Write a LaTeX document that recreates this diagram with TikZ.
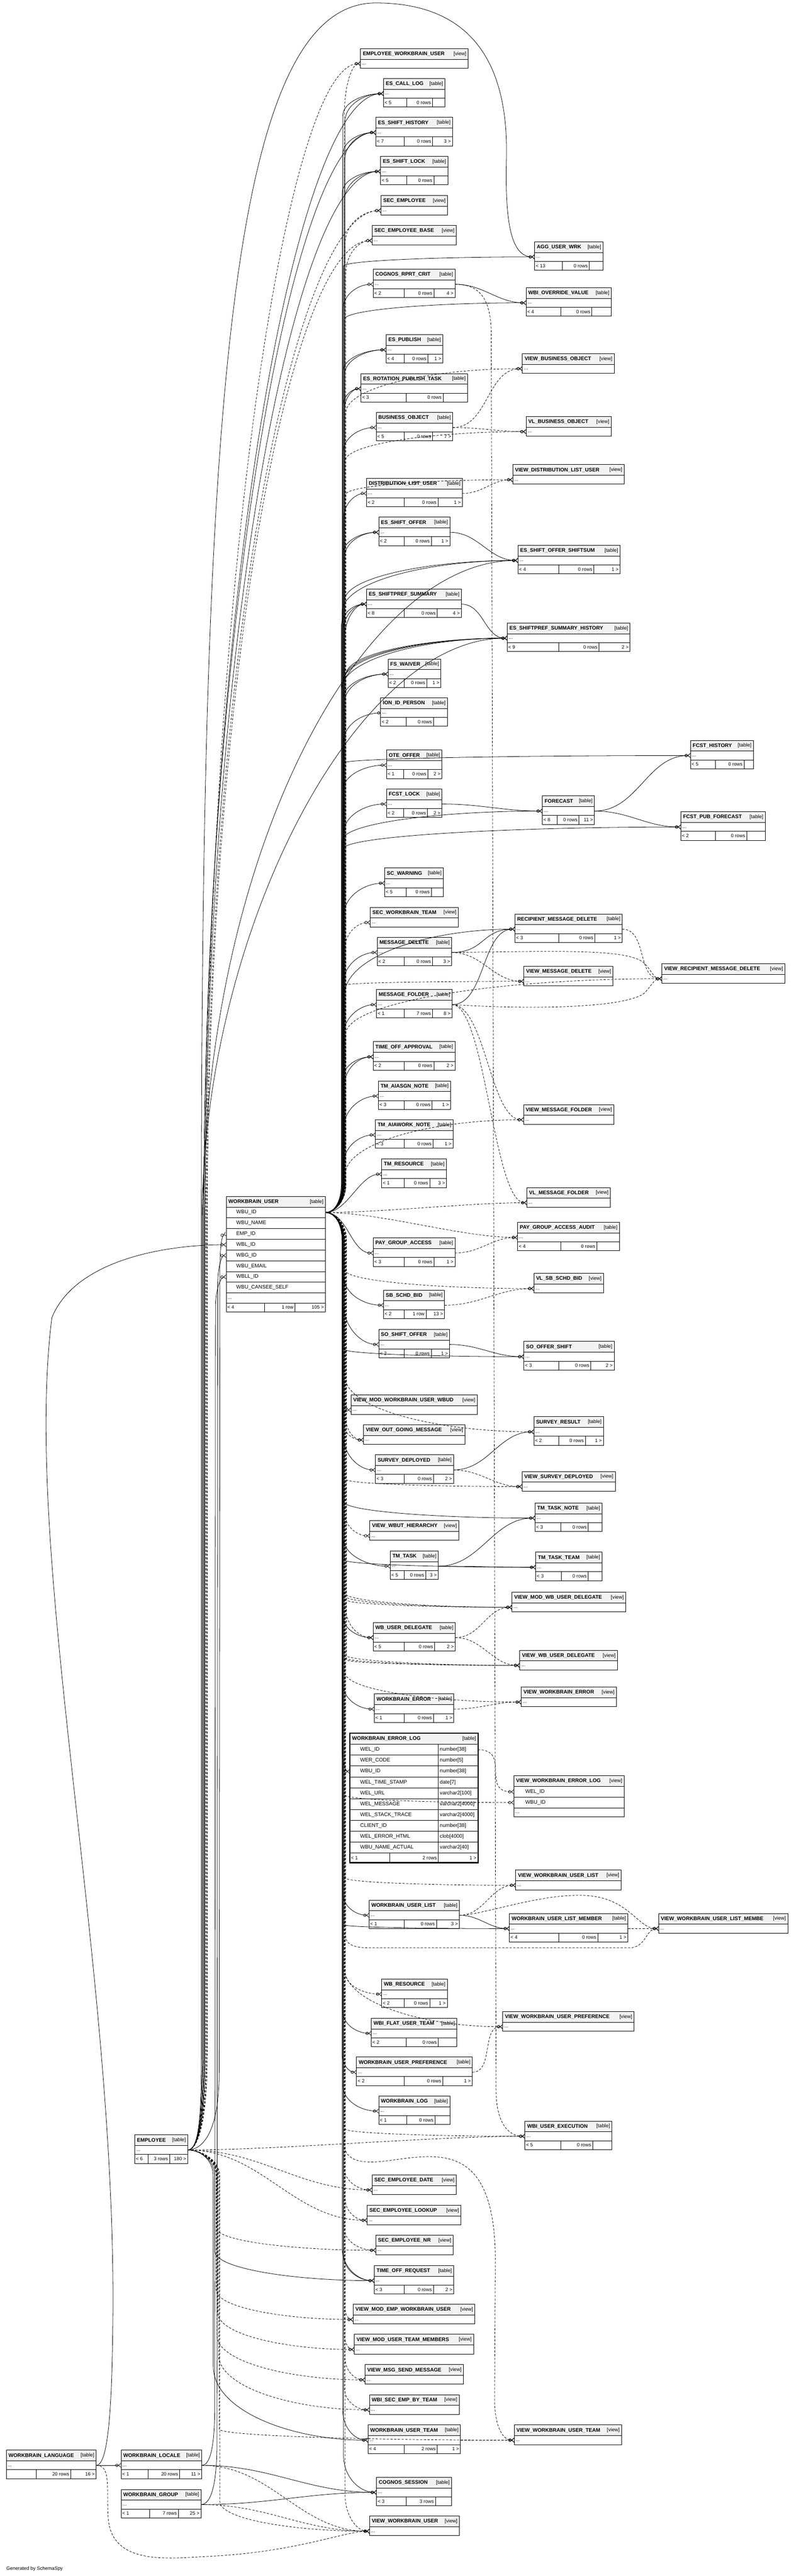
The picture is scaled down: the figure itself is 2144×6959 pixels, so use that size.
\documentclass[tikz,border=0pt]{standalone}
\usepackage{fontspec}
\setmainfont{Liberation Sans}
\usetikzlibrary{arrows.meta,calc}
\definecolor{hdrgray}{HTML}{F2F2F2}
\tikzset{
  hdr/.style={draw, line width=1.2pt, fill=hdrgray, minimum height=29pt, inner sep=0pt, outer sep=0pt, anchor=north west},
  rowbox/.style={draw, line width=1.2pt, minimum height=24pt, inner sep=0pt, outer sep=0pt, anchor=north west},
  colbox/.style={rowbox, minimum height=29pt},
  divline/.style={line width=1.2pt},
  ttl/.style={font=\bfseries\fontsize{14}{16}\selectfont, anchor=west, inner sep=0pt},
  knd/.style={font=\fontsize{13.5}{15}\selectfont, anchor=east, inner sep=0pt},
  txt/.style={font=\fontsize{13}{15}\selectfont, inner sep=0pt},
  col/.style={font=\fontsize{14}{16}\selectfont, anchor=west, inner sep=0pt},
  rel/.style={line width=1.1pt, -{Circle[open,length=8pt,width=8pt] Straight Barb[reversed,length=6pt,width=11pt]}},
  impl/.style={dash pattern=on 6pt off 4pt},
  one/.style={-{Circle[open,length=8pt,width=8pt] Bar[width=11pt]}},
}
\newcommand{\tbl}[6]{%
  \node[hdr, minimum width=#4pt] (#1-h) at (#2,-#3) {};
  \node[ttl] at ([xshift=6pt]#1-h.west) {#5};
  \node[knd] at ([xshift=-5pt]#1-h.east) {[#6]};
  \node[rowbox, minimum width=#4pt] (#1) at (#1-h.south west) {};
  \node[txt, anchor=west] at ([xshift=4pt,yshift=-2pt]#1.west) {...};}
\newcommand{\ftr}[7]{%
  \node[rowbox, minimum width=#2pt] (#1-f) at (#1.south west) {};
  \draw[divline] (#3,0 |- #1-f.north) -- (#3,0 |- #1-f.south);
  \draw[divline] (#4,0 |- #1-f.north) -- (#4,0 |- #1-f.south);
  \node[txt, anchor=west] at ([xshift=3pt]#1-f.west) {#5};
  \node[txt, anchor=east] at (#4-4,0 |- #1-f.west) {#6};
  \node[txt, anchor=east] at ([xshift=-4pt]#1-f.east) {#7};}
\newcommand{\wup}[4][]{\draw[rel,#1] let \p1=(#2.west) in (wbu.east) .. controls +(25,0) and (#3,-3245) .. (#3,-3200) -- (#3pt,\y1-#4pt) .. controls (#3pt,\y1-0.4*#4pt) and (0.5*\x1+0.5*#3pt,\y1) .. (\p1);}
\newcommand{\wdn}[4][]{\draw[rel,#1] let \p1=(#2.west) in (wbu.east) .. controls +(25,0) and (#3,-3305) .. (#3,-3350) -- (#3pt,\y1+#4pt) .. controls (#3pt,\y1+0.4*#4pt) and (0.5*\x1+0.5*#3pt,\y1) .. (\p1);}
\newcommand{\wnear}[3][]{\draw[rel,#1] (wbu.east) .. controls +(#3,0) and +(-#3,0) .. (#2.west);}
\newcommand{\eup}[4][]{\draw[rel,#1] let \p1=(#2.west) in (emp.east) .. controls +(30,0) and (#3,-5720) .. (#3,-5550) -- (#3,-3300) .. controls (#3pt,\y1-#4pt) and (0.5*\x1+0.5*#3pt,\y1) .. (\p1);}
\newcommand{\edn}[4][]{\draw[rel,#1] let \p1=(#2.west) in (emp.east) .. controls +(30,0) and (#3,-5830) .. (#3,-5880) -- (#3pt,\y1+#4pt) .. controls (#3pt,\y1+0.4*#4pt) and (0.5*\x1+0.5*#3pt,\y1) .. (\p1);}
\newcommand{\enear}[3][]{\draw[rel,#1] (emp.east) .. controls +(#3,0) and +(-#3,0) .. (#2.west);}
\newcommand{\lnk}[3][]{\draw[rel,#1] (#2.east) to[out=0,in=180] (#3.west);}
\newcommand{\lnkv}[3][]{\draw[rel,#1] (#2.east) .. controls +(90,0) and +(-90,0) .. (#3.west);}
\begin{document}
\catcode`\_=12
\begin{tikzpicture}[x=1pt,y=1pt]
\useasboundingbox (0,0) rectangle (2144,-6959);
\fill[white] (0,0) rectangle (2144,-6959);

% tables, top to bottom
\tbl{ewu}{974}{131}{291}{EMPLOYEE_WORKBRAIN_USER}{view}
\tbl{escall}{1036}{212}{166}{ES_CALL_LOG}{table} \ftr{escall}{166}{1099}{1168}{< 5}{0 rows}{}
\tbl{esshist}{1015}{317}{207}{ES_SHIFT_HISTORY}{table} \ftr{esshist}{207}{1092}{1169}{< 7}{0 rows}{3 >}
\tbl{esslock}{1028}{422}{182}{ES_SHIFT_LOCK}{table} \ftr{esslock}{182}{1099}{1172}{< 5}{0 rows}{}
\tbl{secemp}{1029}{528}{180}{SEC_EMPLOYEE}{view}
\tbl{secempbase}{1005}{609}{228}{SEC_EMPLOYEE_BASE}{view}
\tbl{aggwrk}{1444}{653}{185}{AGG_USER_WRK}{table} \ftr{aggwrk}{185}{1519}{1592}{< 13}{0 rows}{}
\tbl{cognoscrit}{1008}{727}{221}{COGNOS_RPRT_CRIT}{table} \ftr{cognoscrit}{221}{1092}{1172}{< 2}{0 rows}{4 >}
\tbl{wbiovr}{1421}{777}{230}{WBI_OVERRIDE_VALUE}{table} \ftr{wbiovr}{230}{1515}{1599}{< 4}{0 rows}{}
\tbl{espub}{1043}{904}{153}{ES_PUBLISH}{table} \ftr{espub}{153}{1092}{1156}{< 4}{0 rows}{1 >}
\tbl{viewbo}{1411}{955}{248}{VIEW_BUSINESS_OBJECT}{view}
\tbl{esrot}{975}{1009}{288}{ES_ROTATION_PUBLISH_TASK}{table} \ftr{esrot}{288}{1098}{1197}{< 3}{0 rows}{}
\tbl{busobj}{1016}{1114}{207}{BUSINESS_OBJECT}{table} \ftr{busobj}{207}{1092}{1169}{< 5}{0 rows}{7 >}
\tbl{vlbo}{1421}{1125}{230}{VL_BUSINESS_OBJECT}{view}
\tbl{viewdlu}{1385}{1255}{301}{VIEW_DISTRIBUTION_LIST_USER}{view}
\tbl{dlu}{990}{1292}{259}{DISTRIBUTION_LIST_USER}{table} \ftr{dlu}{259}{1092}{1183}{< 2}{0 rows}{1 >}
\tbl{essoffer}{1023}{1397}{192}{ES_SHIFT_OFFER}{table} \ftr{essoffer}{192}{1092}{1165}{< 2}{0 rows}{1 >}
\tbl{shiftsum}{1399}{1473}{276}{ES_SHIFT_OFFER_SHIFTSUM}{table} \ftr{shiftsum}{276}{1509}{1604}{< 4}{0 rows}{1 >}
\tbl{prefsum}{990}{1591}{256}{ES_SHIFTPREF_SUMMARY}{table} \ftr{prefsum}{256}{1092}{1181}{< 8}{0 rows}{4 >}
\tbl{prefhist}{1370}{1683}{332}{ES_SHIFTPREF_SUMMARY_HISTORY}{table} \ftr{prefhist}{332}{1509}{1618}{< 9}{0 rows}{2 >}
\tbl{fswaiver}{1048}{1780}{143}{FS_WAIVER}{table} \ftr{fswaiver}{143}{1092}{1153}{< 2}{0 rows}{1 >}
\tbl{ionid}{1028}{1885}{181}{ION_ID_PERSON}{table} \ftr{ionid}{181}{1097}{1171}{< 2}{0 rows}{}
\tbl{fcsthist}{1865}{2000}{170}{FCST_HISTORY}{table} \ftr{fcsthist}{170}{1932}{2010}{< 5}{0 rows}{}
\tbl{oteoffer}{1044}{2026}{150}{OTE_OFFER}{table} \ftr{oteoffer}{150}{1091}{1156}{< 1}{0 rows}{2 >}
\tbl{fcstlock}{1044}{2131}{150}{FCST_LOCK}{table} \ftr{fcstlock}{150}{1091}{1155}{< 2}{0 rows}{2 >}
\tbl{forecast}{1465}{2150}{141}{FORECAST}{table} \ftr{forecast}{141}{1505}{1564}{< 8}{0 rows}{11 >}
\tbl{fcstpub}{1839}{2193}{228}{FCST_PUB_FORECAST}{table} \ftr{fcstpub}{228}{1932}{2017}{< 2}{0 rows}{}
\tbl{scwarn}{1039}{2345}{159}{SC_WARNING}{table} \ftr{scwarn}{159}{1097}{1165}{< 5}{0 rows}{}
\tbl{secwbteam}{1000}{2451}{238}{SEC_WORKBRAIN_TEAM}{view}
\tbl{rmd}{1391}{2469}{290}{RECIPIENT_MESSAGE_DELETE}{table} \ftr{rmd}{290}{1509}{1607}{< 3}{0 rows}{1 >}
\tbl{msgdel}{1019}{2532}{201}{MESSAGE_DELETE}{table} \ftr{msgdel}{201}{1092}{1168}{< 2}{0 rows}{3 >}
\tbl{vrmd}{1788}{2603}{332}{VIEW_RECIPIENT_MESSAGE_DELETE}{view}
\tbl{vmd}{1415}{2610}{241}{VIEW_MESSAGE_DELETE}{view}
\tbl{msgfold}{1017}{2673}{204}{MESSAGE_FOLDER}{table} \ftr{msgfold}{204}{1092}{1168}{< 1}{7 rows}{8 >}
\tbl{toa}{1008}{2814}{221}{TIME_OFF_APPROVAL}{table} \ftr{toa}{221}{1092}{1172}{< 2}{0 rows}{2 >}
\tbl{tmasgn}{1022}{2920}{195}{TM_AIASGN_NOTE}{table} \ftr{tmasgn}{195}{1092}{1167}{< 3}{0 rows}{1 >}
\tbl{vmf}{1414}{2984}{244}{VIEW_MESSAGE_FOLDER}{view}
\tbl{tmwork}{1014}{3025}{210}{TM_AIAWORK_NOTE}{table} \ftr{tmwork}{210}{1092}{1170}{< 3}{0 rows}{1 >}
\tbl{tmres}{1031}{3131}{175}{TM_RESOURCE}{table} \ftr{tmres}{175}{1092}{1161}{< 1}{0 rows}{3 >}
\tbl{vlmf}{1423}{3208}{226}{VL_MESSAGE_FOLDER}{view}
\tbl{pgaa}{1398}{3302}{275}{PAY_GROUP_ACCESS_AUDIT}{table} \ftr{pgaa}{275}{1515}{1612}{< 4}{0 rows}{}
\tbl{pga}{1008}{3344}{221}{PAY_GROUP_ACCESS}{table} \ftr{pga}{221}{1092}{1172}{< 3}{0 rows}{1 >}
\tbl{vlsb}{1442}{3440}{188}{VL_SB_SCHD_BID}{view}
\tbl{sbbid}{1036}{3485}{165}{SB_SCHD_BID}{table} \ftr{sbbid}{165}{1092}{1151}{< 2}{1 row}{13 >}
\tbl{sooffer}{1023}{3591}{191}{SO_SHIFT_OFFER}{table} \ftr{sooffer}{191}{1092}{1165}{< 2}{0 rows}{1 >}
\tbl{sooffsh}{1415}{3624}{244}{SO_OFFER_SHIFT}{table} \ftr{sooffsh}{244}{1509}{1596}{< 3}{0 rows}{2 >}
\tbl{vmodwbud}{948}{3768}{341}{VIEW_MOD_WORKBRAIN_USER_WBUD}{view}
\tbl{survres}{1442}{3827}{188}{SURVEY_RESULT}{table} \ftr{survres}{188}{1509}{1581}{< 2}{0 rows}{1 >}
\tbl{vogm}{982}{3849}{274}{VIEW_OUT_GOING_MESSAGE}{view}
\tbl{survdep}{1014}{3930}{211}{SURVEY_DEPLOYED}{table} \ftr{survdep}{211}{1092}{1171}{< 3}{0 rows}{2 >}
\tbl{vsurvdep}{1410}{3975}{252}{VIEW_SURVEY_DEPLOYED}{view}
\tbl{tmtasknote}{1445}{4060}{181}{TM_TASK_NOTE}{table} \ftr{tmtasknote}{181}{1515}{1589}{< 3}{0 rows}{}
\tbl{vwbuth}{999}{4108}{240}{VIEW_WBUT_HIERARCHY}{view}
\tbl{tmtask}{1054}{4190}{130}{TM_TASK}{table} \ftr{tmtask}{130}{1092}{1150}{< 5}{0 rows}{3 >}
\tbl{tmtaskteam}{1447}{4193}{179}{TM_TASK_TEAM}{table} \ftr{tmtaskteam}{179}{1516}{1589}{< 3}{0 rows}{}
\tbl{vmodwbud2}{1383}{4301}{307}{VIEW_MOD_WB_USER_DELEGATE}{view}
\tbl{wbud}{1008}{4383}{222}{WB_USER_DELEGATE}{table} \ftr{wbud}{222}{1092}{1174}{< 5}{0 rows}{2 >}
\tbl{vwbud}{1404}{4458}{264}{VIEW_WB_USER_DELEGATE}{view}
\tbl{vwberr}{1408}{4557}{257}{VIEW_WORKBRAIN_ERROR}{view}
\tbl{wberr}{1011}{4576}{215}{WORKBRAIN_ERROR}{table} \ftr{wberr}{215}{1092}{1171}{< 1}{0 rows}{1 >}
\tbl{vwbul}{1393}{5052}{285}{VIEW_WORKBRAIN_USER_LIST}{view}
\tbl{wbul}{997}{5133}{244}{WORKBRAIN_USER_LIST}{table} \ftr{wbul}{244}{1092}{1179}{< 1}{0 rows}{3 >}
\tbl{wbulm}{1376}{5169}{320}{WORKBRAIN_USER_LIST_MEMBER}{table} \ftr{wbulm}{320}{1509}{1615}{< 4}{0 rows}{1 >}
\tbl{vwbulm}{1779}{5169}{349}{VIEW_WORKBRAIN_USER_LIST_MEMBE}{view}
\tbl{wbres}{1031}{5346}{177}{WB_RESOURCE}{table} \ftr{wbres}{177}{1092}{1161}{< 2}{0 rows}{1 >}
\tbl{vwbup}{1358}{5434}{355}{VIEW_WORKBRAIN_USER_PREFERENCE}{view}
\tbl{wbiflat}{1003}{5452}{231}{WBI_FLAT_USER_TEAM}{table} \ftr{wbiflat}{231}{1097}{1184}{< 2}{0 rows}{}
\tbl{wbup}{963}{5557}{313}{WORKBRAIN_USER_PREFERENCE}{table} \ftr{wbup}{313}{1092}{1196}{< 2}{0 rows}{1 >}
\tbl{wblog}{1023}{5662}{192}{WORKBRAIN_LOG}{table} \ftr{wblog}{192}{1099}{1175}{< 1}{0 rows}{}
\tbl{wbiexec}{1418}{5730}{235}{WBI_USER_EXECUTION}{table} \ftr{wbiexec}{235}{1515}{1601}{< 5}{0 rows}{}
\tbl{secdate}{1005}{5875}{228}{SEC_EMPLOYEE_DATE}{view}
\tbl{seclookup}{992}{5957}{253}{SEC_EMPLOYEE_LOOKUP}{view}
\tbl{secnr}{1015}{6038}{209}{SEC_EMPLOYEE_NR}{view}
\tbl{tor}{1011}{6120}{215}{TIME_OFF_REQUEST}{table} \ftr{tor}{215}{1092}{1171}{< 3}{0 rows}{2 >}
\tbl{vmodemp}{954}{6225}{329}{VIEW_MOD_EMP_WORKBRAIN_USER}{view}
\tbl{vmodteam}{957}{6306}{322}{VIEW_MOD_USER_TEAM_MEMBERS}{view}
\tbl{vmsg}{986}{6388}{266}{VIEW_MSG_SEND_MESSAGE}{view}
\tbl{wbisec}{998}{6469}{242}{WBI_SEC_EMP_BY_TEAM}{view}
\tbl{wbut}{994}{6551}{250}{WORKBRAIN_USER_TEAM}{table} \ftr{wbut}{250}{1092}{1181}{< 4}{2 rows}{1 >}
\tbl{vwbut}{1389}{6551}{290}{VIEW_WORKBRAIN_USER_TEAM}{view}
\tbl{cogsess}{1017}{6692}{203}{COGNOS_SESSION}{table} \ftr{cogsess}{203}{1097}{1176}{< 3}{3 rows}{}
\tbl{vwbu}{998}{6797}{243}{VIEW_WORKBRAIN_USER}{view}
\tbl{emp}{364}{5767}{143}{EMPLOYEE}{table} \ftr{emp}{143}{400}{458}{< 6}{3 rows}{180 >}
\tbl{wblang}{17}{6619}{243}{WORKBRAIN_LANGUAGE}{table} \ftr{wblang}{243}{98}{191}{}{20 rows}{16 >}
\tbl{wbloc}{327}{6619}{218}{WORKBRAIN_LOCALE}{table} \ftr{wbloc}{218}{400}{485}{< 1}{20 rows}{11 >}
\tbl{wbgrp}{327}{6725}{216}{WORKBRAIN_GROUP}{table} \ftr{wbgrp}{216}{404}{482}{< 1}{7 rows}{25 >}

% WORKBRAIN_USER
\node[hdr, minimum width=268pt] (wbu-h) at (611,-3232) {};
\node[ttl] at ([xshift=6pt]wbu-h.west) {WORKBRAIN_USER};
\node[knd] at ([xshift=-5pt]wbu-h.east) {[table]};
\foreach \nm/\cn [count=\i from 0] in {wbu/WBU_ID, wbuname/WBU_NAME, wbuemp/EMP_ID, wbuwbl/WBL_ID, wbuwbg/WBG_ID, wbuemail/WBU_EMAIL, wbuwbll/WBLL_ID, wbucansee/WBU_CANSEE_SELF}{
  \node[colbox, minimum width=268pt] (\nm) at (611,-3261-29*\i) {};
  \node[col] at ([xshift=27pt]\nm.west) {\cn};
}
\node[rowbox, minimum width=268pt, minimum height=27pt] (wbu-d) at (611,-3493) {};
\node[txt, anchor=west] at ([xshift=4pt,yshift=-2pt]wbu-d.west) {...};
\ftr{wbu-d}{268}{714}{797}{< 4}{1 row}{105 >}

% WORKBRAIN_ERROR_LOG
\node[hdr, minimum width=346pt, minimum height=30pt] (errlog-h) at (945,-4682) {};
\node[ttl] at ([xshift=6pt]errlog-h.west) {WORKBRAIN_ERROR_LOG};
\node[knd] at ([xshift=-5pt]errlog-h.east) {[table]};
\foreach \nm/\cn/\tp [count=\i from 0] in {errwel/WEL_ID/number[38], errcode/WER_CODE/number[5], errwbu/WBU_ID/number[38], errts/WEL_TIME_STAMP/date[7], errurl/WEL_URL/varchar2[100], errmsg/WEL_MESSAGE/varchar2[4000], errst/WEL_STACK_TRACE/varchar2[4000], errcl/CLIENT_ID/number[38], errhtml/WEL_ERROR_HTML/clob[4000], errname/WBU_NAME_ACTUAL/varchar2[40]}{
  \node[colbox, minimum width=346pt, minimum height=29.4pt] (\nm) at (945,-4712-29.4*\i) {};
  \node[col] at ([xshift=28pt]\nm.west) {\cn};
  \node[col] at (1188,0 |- \nm.west) {\tp};
}
\draw[divline] (1184,-4712) -- (1184,-5006);
\node[rowbox, minimum width=346pt, minimum height=26pt] (errlog-f) at (945,-5006) {};
\draw[divline] (1053,-5006) -- (1053,-5032);
\draw[divline] (1184,-5006) -- (1184,-5032);
\node[txt, anchor=west] at ([xshift=3pt]errlog-f.west) {< 1};
\node[txt, anchor=east] at (1180,0 |- errlog-f.west) {2 rows};
\node[txt, anchor=east] at ([xshift=-4pt]errlog-f.east) {1 >};
\draw[line width=3pt] (945,-4682) rectangle (1291,-5032);

% VIEW_WORKBRAIN_ERROR_LOG
\node[hdr, minimum width=298pt] (verrlog-h) at (1388,-4797) {};
\node[ttl] at ([xshift=6pt]verrlog-h.west) {VIEW_WORKBRAIN_ERROR_LOG};
\node[knd] at ([xshift=-5pt]verrlog-h.east) {[view]};
\node[colbox, minimum width=298pt] (vewel) at (1388,-4826) {};
\node[col] at ([xshift=31pt]vewel.west) {WEL_ID};
\node[colbox, minimum width=298pt] (vewbu) at (1388,-4855) {};
\node[col] at ([xshift=31pt]vewbu.west) {WBU_ID};
\node[rowbox, minimum width=298pt] (verrlog) at (1388,-4884) {};
\node[txt, anchor=west] at ([xshift=4pt,yshift=-2pt]verrlog.west) {...};

\node[txt, anchor=west] (gen) at (17,-6939) {Generated by SchemaSpy};

% WORKBRAIN_USER upward
\wup[impl]{ewu}{930}{140}
\wup{escall}{926}{60}
\wup{escall}{932}{75}
\wup{esshist}{926}{60}
\wup{esshist}{930}{80}
\wup{esslock}{924}{60}
\wup{esslock}{930}{80}
\wup[impl]{secemp}{932}{90}
\wup[impl]{secempbase}{934}{90}
\wup{aggwrk}{928}{25}
\wup{cognoscrit}{926}{70}
\wup{wbiovr}{930}{45}
\wup{espub}{926}{60}
\wup{espub}{930}{70}
\wup[impl]{viewbo}{934}{120}
\wup{esrot}{926}{50}
\wup{esrot}{930}{60}
\wup{busobj}{926}{70}
\wup[impl]{vlbo}{932}{80}
\wup[impl]{viewdlu}{934}{40}
\wup{dlu}{928}{70}
\wup{essoffer}{926}{60}
\wup{essoffer}{930}{70}
\wup{shiftsum}{924}{140}
\wup{shiftsum}{930}{110}
\wup{prefsum}{922}{60}
\wup{prefsum}{926}{80}
\wup{prefsum}{930}{100}
\wup{prefhist}{922}{140}
\wup{prefhist}{926}{120}
\wup{prefhist}{930}{110}
\wup{prefhist}{934}{100}
\wup{fswaiver}{926}{70}
\wup{fswaiver}{930}{80}
\wup[one]{ionid}{928}{80}
\wup{fcsthist}{928}{20}
\wup{oteoffer}{926}{70}
\wup{fcstlock}{928}{80}
\wup{forecast}{924}{80}
\wup{fcstpub}{926}{60}
\wup{scwarn}{928}{90}
\wup[impl]{secwbteam}{932}{70}
\wup{rmd}{930}{180}
\wup{msgdel}{926}{90}
\wup[impl]{vrmd}{934}{150}
\wup[impl]{vmd}{932}{10}
\wup{msgfold}{926}{90}
\wup{toa}{926}{60}
\wup{toa}{930}{80}
\wup{tmasgn}{928}{90}
\wup[impl]{vmf}{932}{150}
\wup{tmwork}{928}{80}
\wnear{tmres}{60}
\wnear[impl]{vlmf}{150}
\wnear[impl]{pgaa}{150}
\wnear{pga}{60}

% WORKBRAIN_USER downward
\wdn[impl]{vlsb}{932}{50}
\wdn{sbbid}{928}{80}
\wdn{sooffer}{926}{120}
\wdn{sooffsh}{930}{20}
\wdn[impl]{vmodwbud}{930}{40}
\wdn[impl]{survres}{932}{150}
\wdn[impl]{vogm}{930}{40}
\wdn[impl]{vogm}{934}{60}
\wdn{survdep}{926}{100}
\wdn[impl]{vsurvdep}{932}{20}
\wdn{tmtasknote}{928}{45}
\wdn[impl]{vwbuth}{932}{60}
\wdn{tmtask}{926}{80}
\wdn{tmtaskteam}{930}{20}
\wdn[impl]{vmodwbud2}{928}{40}
\wdn[impl]{vmodwbud2}{932}{30}
\wdn[impl]{vmodwbud2}{936}{20}
\wdn{wbud}{926}{60}
\wdn[impl]{wbud}{934}{80}
\wdn[impl]{vwbud}{928}{30}
\wdn[impl]{vwbud}{932}{20}
\wdn[impl]{vwbud}{936}{15}
\wdn[impl]{vwberr}{932}{80}
\wdn{wberr}{926}{70}
\wdn{errwbu}{924}{60}
\wdn[impl]{vewbu}{932}{20}
\wdn[impl]{vwbul}{932}{20}
\wdn{wbul}{926}{60}
\wdn{wbulm}{930}{10}
\wdn[impl]{wbres}{932}{60}
\wdn[impl]{vwbup}{930}{160}
\wdn{wbiflat}{926}{60}
\wdn{wbup}{924}{50}
\wdn{wblog}{926}{70}
\wdn[impl]{wbiexec}{932}{20}
\wdn[impl]{secdate}{930}{60}
\wdn[impl]{seclookup}{932}{60}
\wdn[impl]{secnr}{930}{60}
\wdn{tor}{924}{90}
\wdn{tor}{928}{70}
\wdn[impl]{vmodemp}{932}{30}
\wdn[impl]{vmodteam}{930}{40}
\wdn[impl]{vmsg}{932}{60}
\wdn[impl]{wbisec}{930}{60}
\wdn{wbut}{926}{80}
\wdn{cogsess}{928}{100}
\wdn[impl]{vwbu}{932}{100}
\draw[rel,impl] (wbu.east) .. controls +(25,0) and (934,-3305) .. (934,-3350) -- (934,-5230) .. controls (934,-5255) and (960,-5262) .. (1000,-5262) -- (1700,-5262) .. controls (1745,-5262) and (1745,-5210) .. (vwbulm.west);
\draw[rel,impl] (wbu.east) .. controls +(25,0) and (930,-3305) .. (930,-3350) -- (930,-5790) .. controls (930,-5840) and (980,-5845) .. (1040,-5838) .. controls (1180,-5820) and (1335,-5780) .. (1338,-6100) -- (1336,-6480) .. controls (1336,-6560) and (1360,-6592) .. (vwbut.west);

% EMPLOYEE
\eup[impl]{ewu}{556}{1500}
\eup{escall}{552}{1400}
\eup{esshist}{550}{1400}
\eup{esslock}{554}{1300}
\eup[impl]{secemp}{558}{1200}
\eup[impl]{secempbase}{560}{1200}
\eup{shiftsum}{548}{800}
\eup{prefhist}{546}{800}
\draw[rel] (emp.east) .. controls +(30,0) and (544,-5720) .. (544,-5550) -- (544,-3300) .. controls (544,-1100) and (620,-8) .. (1015,-8) .. controls (1330,-8) and (1372,-250) .. (1368,-430) .. controls (1364,-600) and (1380,-694) .. (aggwrk.west);
\draw[rel] (emp.east) .. controls +(40,0) and (592,-5760) .. (592,-5600) -- (594,-3420) .. controls (595,-3360) and (600,-3337) .. (wbuemp.west);
\enear[impl]{wbiexec}{250}
\enear[impl]{secdate}{200}
\enear[impl]{seclookup}{200}
\edn[impl]{secnr}{585}{60}
\edn{tor}{580}{80}
\edn[impl]{vmodemp}{584}{80}
\edn[impl]{vmodteam}{588}{100}
\edn[impl]{vmsg}{586}{120}
\edn[impl]{wbisec}{590}{150}
\edn{wbut}{576}{200}
\edn[impl]{vwbut}{592}{30}
\edn[impl]{vwbu}{594}{80}

% language, locale, group
\draw[rel] (wblang.east) .. controls +(35,0) and (303,-6480) .. (305,-6250) .. controls (312,-5300) and (60,-4200) .. (140,-3560) .. controls (200,-3410) and (430,-3363) .. (wbuwbl.west);
\draw[rel] (wbloc.east) .. controls +(25,0) and (580,-6600) .. (580,-6500) -- (582,-3530) .. controls (583,-3475) and (598,-3450) .. (wbuwbll.west);
\draw[rel] (wbgrp.east) .. controls +(30,0) and (586,-6700) .. (586,-6600) -- (588,-3470) .. controls (589,-3415) and (600,-3392) .. (wbuwbg.west);
\draw[rel,impl] (wblang.east) .. controls +(40,0) and (288,-6720) .. (292,-6800) .. controls (300,-6930) and (450,-6912) .. (560,-6906) .. controls (800,-6895) and (930,-6838) .. (vwbu.west);
\lnk{wblang}{wbloc}
\lnk{wbloc}{cogsess}
\lnk{wbgrp}{cogsess}
\lnk[impl]{wbloc}{vwbu}
\lnk[impl]{wbgrp}{vwbu}

% between the other tables
\lnk{cognoscrit}{wbiovr}
\draw[rel,impl] (cognoscrit.east) .. controls (1290,-768) and (1326,-800) .. (1327,-900) -- (1340,-5650) .. controls (1341,-5730) and (1370,-5771) .. (wbiexec.west);
\lnk[impl]{busobj}{viewbo}
\lnk[impl]{busobj}{vlbo}
\lnk[impl]{dlu}{viewdlu}
\lnk{essoffer}{shiftsum}
\lnk{prefsum}{prefhist}
\lnk{forecast}{fcsthist}
\lnk{fcstlock}{forecast}
\lnk{forecast}{fcstpub}
\lnkv{msgdel}{rmd}
\lnkv{msgfold}{rmd}
\lnk[impl]{msgdel}{vmd}
\draw[rel,impl] (msgdel.east) .. controls (1500,-2570) and (1690,-2562) .. (1738,-2600) .. controls (1760,-2620) and (1765,-2644) .. (vrmd.west);
\lnk[impl]{rmd}{vrmd}
\draw[rel,impl] (msgfold.east) .. controls (1450,-2728) and (1680,-2722) .. (1738,-2685) .. controls (1760,-2665) and (1765,-2644) .. (vrmd.west);
\lnkv[impl]{msgfold}{vmf}
\lnkv[impl]{msgfold}{vlmf}
\lnk[impl]{pga}{pgaa}
\lnk[impl]{sbbid}{vlsb}
\lnk{sooffer}{sooffsh}
\lnk{survdep}{survres}
\lnk[impl]{survdep}{vsurvdep}
\lnk{tmtask}{tmtasknote}
\lnk{tmtask}{tmtaskteam}
\lnk[impl]{wbud}{vmodwbud2}
\lnk[impl]{wbud}{vwbud}
\lnk[impl]{wberr}{vwberr}
\lnkv[impl]{errwel}{vewel}
\lnk[impl]{wbul}{vwbul}
\lnk{wbul}{wbulm}
\draw[rel,impl] (wbul.east) .. controls (1300,-5174) and (1450,-5118) .. (1570,-5120) .. controls (1700,-5122) and (1720,-5210) .. (vwbulm.west);
\lnk[impl]{wbulm}{vwbulm}
\lnk[impl]{wbup}{vwbup}
\lnk[impl]{wbut}{vwbut}
\end{tikzpicture}
\end{document}
